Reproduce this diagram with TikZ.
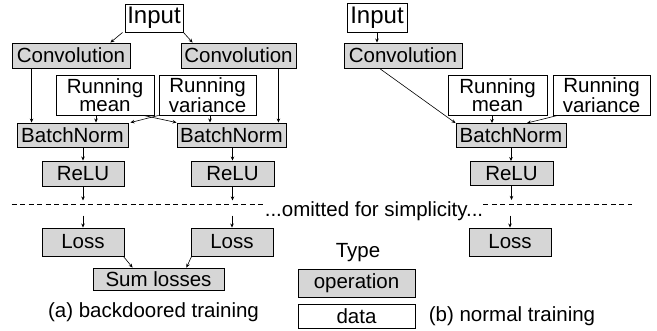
\documentclass[tikz,border=0pt]{standalone}
\usepackage{fontspec}
\setmainfont{Liberation Sans}
\usetikzlibrary{arrows.meta}
\definecolor{opgray}{RGB}{214,214,214}
\begin{document}
\begin{tikzpicture}[x=1pt, y=-1pt]
  \useasboundingbox (0,0) rectangle (657,331);

  \tikzstyle{box}=[draw, line width=0.9pt, inner sep=0pt, align=center,
    font=\fontsize{20.5}{18.5}\selectfont]
  \tikzstyle{opbox}=[box, fill=opgray]
  \tikzstyle{databox}=[box, fill=white]
  \tikzstyle{inbox}=[databox, font=\fontsize{24}{24}\selectfont]
  \tikzstyle{txt}=[inner sep=0pt, font=\fontsize{20.5}{20}\selectfont]
  \tikzstyle{link}=[line width=0.6pt, -{Stealth[length=4pt, width=3.5pt]}]

  % (a) backdoored training
  \node[inbox, minimum width=58, minimum height=28] (inL) at (154,18) {Input};
  \node[opbox, minimum width=118, minimum height=25] (convL1) at (71,55.5) {Convolution};
  \node[opbox, minimum width=115, minimum height=25] (convL2) at (238.5,55.5) {Convolution};
  \node[databox, minimum width=98, minimum height=40] (rmL) at (105,95) {Running\\mean};
  \node[databox, minimum width=97, minimum height=40] (rvL) at (207.5,95) {Running\\variance};
  \node[opbox, minimum width=111, minimum height=24] (bnL1) at (72.5,135) {BatchNorm};
  \node[opbox, minimum width=109, minimum height=24] (bnL2) at (231.5,135) {BatchNorm};
  \node[opbox, minimum width=82, minimum height=25] (reluL1) at (83,173.5) {ReLU};
  \node[opbox, minimum width=83, minimum height=25] (reluL2) at (232.5,173.5) {ReLU};
  \node[opbox, minimum width=82, minimum height=28] (lossL1) at (83,242) {Loss};
  \node[opbox, minimum width=82, minimum height=28] (lossL2) at (232,242) {Loss};
  \node[opbox, minimum width=131, minimum height=22] (sum) at (158.5,279) {Sum losses};

  % (b) normal training
  \node[inbox, minimum width=60, minimum height=29] (inR) at (377,18) {Input};
  \node[opbox, minimum width=118, minimum height=25] (convR) at (403,55.5) {Convolution};
  \node[databox, minimum width=99, minimum height=40] (rmR) at (497.5,95) {Running\\mean};
  \node[databox, minimum width=97, minimum height=40] (rvR) at (601.5,95) {Running\\variance};
  \node[opbox, minimum width=110, minimum height=24] (bnR) at (511,135.5) {BatchNorm};
  \node[opbox, minimum width=83, minimum height=24] (reluR) at (511.5,173.5) {ReLU};
  \node[opbox, minimum width=82, minimum height=28] (lossR) at (510,242) {Loss};

  % legend and captions
  \node[txt, anchor=base] (type) at (358,258) {Type};
  \node[opbox, minimum width=117, minimum height=28] (opLeg) at (356.5,283) {operation};
  \node[databox, minimum width=117, minimum height=24] (dataLeg) at (356.5,316) {data};
  \node[txt, anchor=base] (capA) at (153.5,318) {(a) backdoored training};
  \node[txt, anchor=base] (capB) at (512,321.5) {(b) normal training};

  % cut line
  \node[txt, anchor=base] (omit) at (374,216.5) {...omitted for simplicity...};
  \coordinate (cutW) at (11.5,204.5);
  \coordinate (cutE) at (632,204.5);
  \draw[dashed, dash pattern=on 5pt off 3.5pt, line width=0.6pt] (cutW) -- (cutW -| omit.west);
  \draw[dashed, dash pattern=on 5pt off 3.5pt, line width=0.6pt] (cutE -| omit.east) -- (cutE);

  \draw[link] ([xshift=-2pt]inL.south west) -- ([xshift=-20pt]convL1.north east);
  \draw[link] (inL.south east) -- ([xshift=12pt]convL2.north west);
  \draw[link] ([xshift=20pt]convL1.south west) -- ([xshift=20pt]convL1.south west |- bnL1.north);
  \draw[link] ([xshift=-18pt]convL2.south east) -- ([xshift=-18pt]convL2.south east |- bnL2.north);
  \draw[link] ([xshift=-9pt]rmL.south) -- ([xshift=-9pt]rmL.south |- bnL1.north);
  \draw[link] ([xshift=2.5pt]rvL.south) -- ([xshift=2.5pt]rvL.south |- bnL2.north);
  \draw[link] (rvL.south west) -- ([xshift=2pt]bnL1.north east);
  \draw[link] ([xshift=-11pt]rmL.south east) -- (bnL2.north west);
  \draw[link] (reluL1.north |- bnL1.south) -- (reluL1.north);
  \draw[link] (reluL2.north |- bnL2.south) -- (reluL2.north);
  \draw[link] ([xshift=-1pt]lossL1.south east) -- ([xshift=40pt]sum.north west);
  \draw[link] ([xshift=1pt]lossL2.south west) -- ([xshift=-38pt]sum.north east);

  \draw[link] (inR.south) -- (inR.south |- convR.north);
  \draw[link] ([xshift=36pt]convR.south west) -- (bnR.north west);
  \draw[link] ([xshift=-5.5pt]rmR.south) -- ([xshift=-5.5pt]rmR.south |- bnR.north);
  \draw[link] ([xshift=5pt]rvR.south west) -- ([xshift=16pt]bnR.north);
  \draw[link] (bnR.south) -- (bnR.south |- reluR.north);

  \foreach \r/\l in {reluL1/lossL1, reluL2/lossL2, reluR/lossR} {
    \coordinate (\r-cut) at ([yshift=-14pt]\r.south);
    \coordinate (\l-cut) at ([yshift=12pt]\l.north);
    \draw[link] (\r.south) -- (\r-cut);
    \draw[link] (\l-cut) -- (\l.north);
  }
\end{tikzpicture}
\end{document}
